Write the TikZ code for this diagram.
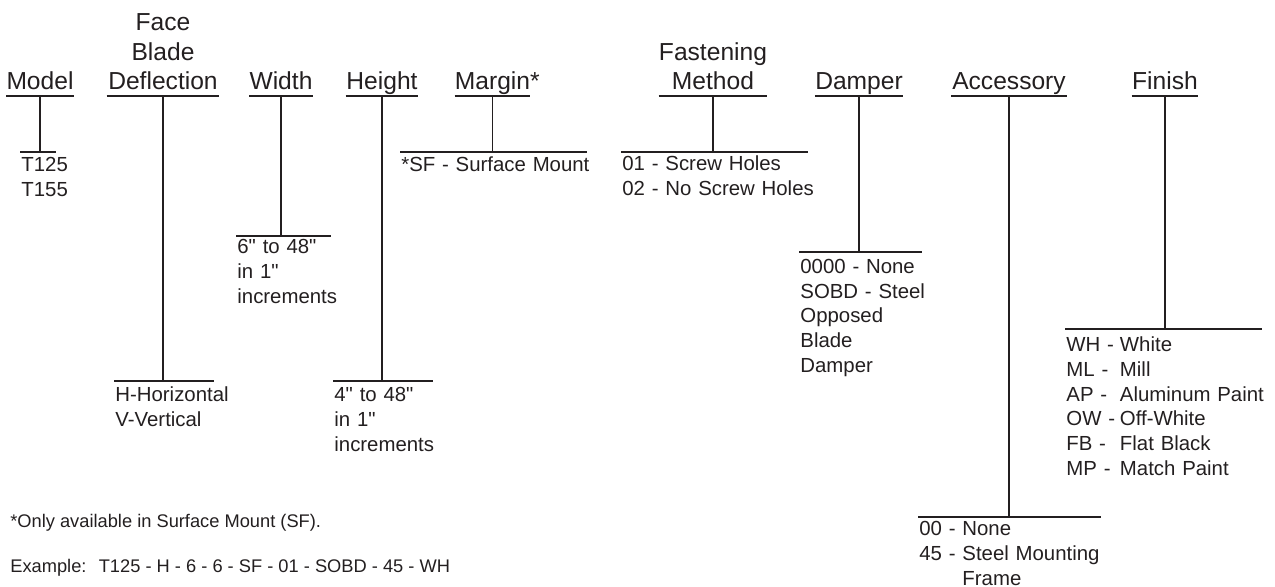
\documentclass[tikz,border=0pt]{standalone}
\usepackage{fontspec}
\setmainfont{Liberation Sans}
\newfontfamily\plainsans{Liberation Sans}
\definecolor{ink}{HTML}{231F20}
\newcommand{\inchmark}{{\plainsans"}}
\tikzset{
  head/.style={font=\fontsize{14}{16.8}\selectfont, align=center, inner sep=0pt,
    anchor=south, text=ink, execute at end node={\rule[-3.4pt]{0pt}{3.4pt}}},
  opts/.style={font=\fontsize{11.6}{14.2}\selectfont, text width=5cm, align=left, inner xsep=0.6pt,
    inner ysep=0pt, anchor=north west, text=ink, text height=#1},
  opts/.default=11pt,
  note/.style={font=\fontsize{10.4}{12.5}\selectfont, inner sep=0pt, anchor=base west, text=ink},
  rule/.style={draw=ink, line width=1.1pt}
}
\begin{document}
\begin{tikzpicture}[x=0.02cm, y=-0.02cm]
        \useasboundingbox (0,0) rectangle (1275,586);

        % headings, underline = south edge
        \node[head, minimum width=1.34cm] (model) at (40,96) {Model};
        \node[head, minimum width=2.24cm] (face) at (163,96) {Face\\Blade\\Deflection};
        \node[head, minimum width=1.16cm] (width) at (281,96) {Width};
        \node[head, minimum width=1.44cm] (height) at (382,96) {Height};
        \node[head, minimum width=1.34cm] (margin) at (492.5,96) {Margin\rlap{*}};
        \node[head, minimum width=2.12cm] (fasten) at (713,96) {Fastening\\Method};
        \node[head, minimum width=1.74cm] (damper) at (859,96) {Damper};
        \node[head, minimum width=2.30cm] (access) at (1009,96) {Accessory};
        \node[head, minimum width=1.32cm] (finish) at (1165,96) {Finish};

        % option lists, bar = top edge
        \node[opts] (modelopt) at (20,152) {T125\\T155};
        \node[opts=11.6pt] (faceopt) at (114,381) {H-Horizontal\\V-Vertical};
        \node[opts=9.6pt] (widthopt) at (236,236) {6\inchmark{} to 48\inchmark\\in 1\inchmark\\increments};
        \node[opts=11.6pt] (heightopt) at (333,381) {4\inchmark{} to 48\inchmark\\in 1\inchmark\\increments};
        \node[opts] (marginopt) at (400,152) {*SF - Surface Mount};
        \node[opts=10.2pt] (fastenopt) at (621,152) {01 - Screw Holes\\02 - No Screw Holes};
        \node[opts=11.8pt] (damperopt) at (799,252) {0000 - None\\SOBD - Steel\\Opposed\\Blade\\Damper};
        \node[opts=10.2pt] (accessopt) at (918,517) {00 - None\\45 - Steel Mounting\\\phantom{45 - }Frame};
        \node[opts=12.4pt] (finishopt) at (1065,329) {\begin{tabular}[t]{@{}l@{\hspace{2.8pt}}l@{}}
            WH - & White\\ ML - & Mill\\ AP - & Aluminum Paint\\
            OW - & Off-White\\ FB - & Flat Black\\ MP - & Match Paint\end{tabular}};

        \coordinate (modelend) at (56,152);
        \coordinate (faceend) at (214,381);
        \coordinate (widthend) at (331,236);
        \coordinate (heightend) at (433,381);
        \coordinate (marginend) at (587,152);
        \coordinate (fastenend) at (808,152);
        \coordinate (damperend) at (922,252);
        \coordinate (accessend) at (1101,517);
        \coordinate (finishend) at (1262,329);

        \node[note] (footnote) at (10,527) {*Only available in Surface Mount (SF).};
        \node[note] (example) at (10,572) {Example:\hspace{7pt}T125 - H - 6 - 6 - SF - 01 - SOBD - 45 - WH};

        \draw[rule] (model.south west) -- (model.south east);
        \draw[rule] (face.south west) -- (face.south east);
        \draw[rule] (width.south west) -- (width.south east);
        \draw[rule] (height.south west) -- (height.south east);
        \draw[rule] (margin.south west) -- (margin.south east);
        \draw[rule] (fasten.south west) -- (fasten.south east);
        \draw[rule] (damper.south west) -- (damper.south east);
        \draw[rule] (access.south west) -- (access.south east);
        \draw[rule] (finish.south west) -- (finish.south east);

        \draw[rule] (model.south) -- (model.south |- modelend);
        \draw[rule] (face.south) -- (face.south |- faceend);
        \draw[rule] (width.south) -- (width.south |- widthend);
        \draw[rule] (height.south) -- (height.south |- heightend);
        \draw[rule] (margin.south) -- (margin.south |- marginend);
        \draw[rule] (fasten.south) -- (fasten.south |- fastenend);
        \draw[rule] (damper.south) -- (damper.south |- damperend);
        \draw[rule] (access.south) -- (access.south |- accessend);
        \draw[rule] (finish.south) -- (finish.south |- finishend);

        \draw[rule] (modelopt.north west) -- (modelend);
        \draw[rule] (faceopt.north west) -- (faceend);
        \draw[rule] (widthopt.north west) -- (widthend);
        \draw[rule] (heightopt.north west) -- (heightend);
        \draw[rule] (marginopt.north west) -- (marginend);
        \draw[rule] (fastenopt.north west) -- (fastenend);
        \draw[rule] (damperopt.north west) -- (damperend);
        \draw[rule] (accessopt.north west) -- (accessend);
        \draw[rule] (finishopt.north west) -- (finishend);
      \end{tikzpicture}
\end{document}
